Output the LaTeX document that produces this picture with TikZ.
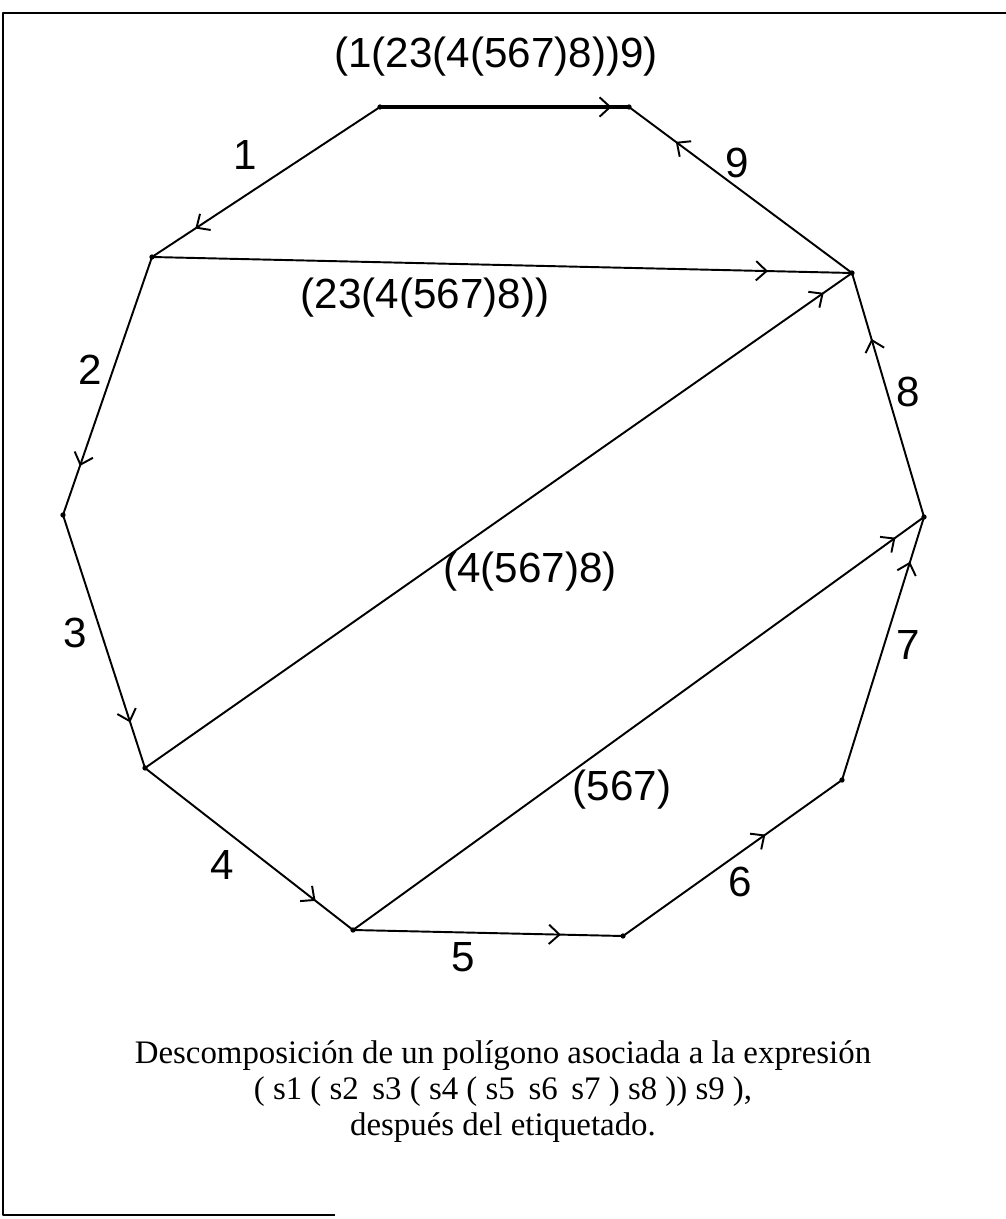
\documentclass[tikz,border=0pt]{standalone}
\usepackage{fontspec}
\setmainfont{Liberation Serif}
\setsansfont{Liberation Sans}
\usetikzlibrary{arrows.meta, decorations.markings}

\tikzset{
  side/.style={line width=1.1pt},
  midarrow/.style={postaction={decorate}, decoration={markings,
      mark=at position #1 with {\arrow{Straight Barb[length=6pt, width=11pt, line width=1.1pt]}}}},
  hand/.style={font=\sffamily\fontsize{24}{28}\selectfont, inner sep=0pt},
  caption/.style={font=\fontsize{18.7}{22}\selectfont, inner sep=0pt},
}

\begin{document}
\begin{tikzpicture}[x=0.02cm, y=-0.02cm, line join=round]
  \useasboundingbox (0,0) rectangle (1006,1219);

  % frame (open on the right)
  \draw[line width=1.4pt] (1006,13) -- (3,13) -- (3,1215) -- (335,1215);

  % vertices of the decagon
  \coordinate (A) at (380,107);
  \coordinate (B) at (629,107);
  \coordinate (C) at (152,257);
  \coordinate (D) at (852,273);
  \coordinate (E) at (63,515);
  \coordinate (F) at (924,517);
  \coordinate (G) at (145,768);
  \coordinate (H) at (842,780);
  \coordinate (I) at (353,930);
  \coordinate (J) at (623,936);

  % sides, in the order of the labelling
  \draw[side, line width=2.2pt, midarrow=0.93] (A) -- (B);
  \draw[side, midarrow=0.81] (A) -- (C);
  \draw[side, midarrow=0.81] (C) -- (E);
  \draw[side, midarrow=0.82] (E) -- (G);
  \draw[side, midarrow=0.82] (G) -- (I);
  \draw[side, midarrow=0.77] (I) -- (J);
  \draw[side, midarrow=0.65] (J) -- (H);
  \draw[side, midarrow=0.83] (H) -- (F);
  \draw[side, midarrow=0.73] (F) -- (D);
  \draw[side, midarrow=0.79] (D) -- (B);

  % diagonals
  \draw[side, midarrow=0.88] (C) -- (D);
  \draw[side, midarrow=0.96] (G) -- (D);
  \draw[side, midarrow=0.95] (I) -- (F);

  \foreach \v in {A,B,C,D,E,F,G,H,I,J}
    \fill (\v) circle (1.5pt);

  % labels of the sides
  \node[hand] (s1) at (245,155) {1};
  \node[hand] (s2) at (90,370) {2};
  \node[hand] (s3) at (75,633) {3};
  \node[hand] (s4) at (222,865) {4};
  \node[hand] (s5) at (463,957) {5};
  \node[hand] (s6) at (740,882) {6};
  \node[hand] (s7) at (908,645) {7};
  \node[hand] (s8) at (908,392) {8};
  \node[hand] (s9) at (737,163) {9};

  % labels of the diagonals
  \node[hand] (top) at (496,57) {(1(23(4(567)8))9)};
  \node[hand] (d1) at (425,298) {(23(4(567)8))};
  \node[hand] (d2) at (530,572) {(4(567)8)};
  \node[hand] (d3) at (622,790) {(567)};

  % caption
  \node[caption] (cap1) at (503,1056) {Descomposición de un polígono asociada a la expresión};
  \node[caption] (cap2) at (503,1092) {( s1 ( s2\, s3 ( s4 ( s5\, s6\, s7 ) s8 )) s9 ),};
  \node[caption] (cap3) at (503,1128) {después del etiquetado.};
\end{tikzpicture}
\end{document}
